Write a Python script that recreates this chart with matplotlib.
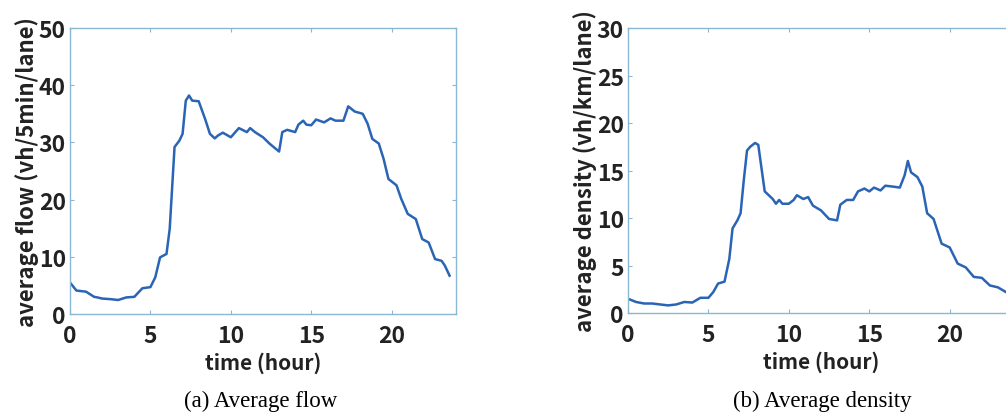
import numpy as np
import matplotlib as mpl
mpl.use('Agg')
import matplotlib.pyplot as plt

# hours / values
flow_hours = [0.0, 0.4, 1.0, 1.5, 1.7, 2.0, 2.5, 3.0, 3.5, 4.0, 4.5, 5.0, 5.3, 5.6,
              6.0, 6.2, 6.5, 6.8, 7.0, 7.2, 7.4, 7.6, 8.0, 8.4, 8.7, 9.0, 9.2, 9.5,
              10.0, 10.5, 11.0, 11.2, 11.5, 12.0, 12.4, 13.0, 13.2, 13.5, 14.0,
              14.2, 14.5, 14.7, 15.0, 15.3, 15.8, 16.2, 16.5, 17.0, 17.3, 17.7,
              18.2, 18.5, 18.8, 19.2, 19.5, 19.8, 20.3, 20.6, 21.0, 21.5, 21.9,
              22.3, 22.7, 23.1, 23.3, 23.6]
flow_values = [5.5, 4.1, 3.9, 3.0, 2.9, 2.7, 2.6, 2.45, 2.9, 3.0, 4.5, 4.7, 6.4, 9.9,
               10.5, 14.9, 29.2, 30.3, 31.5, 37.3, 38.2, 37.3, 37.2, 34.1, 31.5,
               30.7, 31.2, 31.7, 30.9, 32.5, 31.8, 32.5, 31.8, 30.9, 29.8, 28.4,
               31.8, 32.2, 31.8, 33.1, 33.8, 33.1, 33.0, 34.0, 33.5, 34.2, 33.8,
               33.8, 36.3, 35.4, 35.0, 33.3, 30.6, 29.8, 27.1, 23.6, 22.5, 20.1,
               17.5, 16.6, 13.1, 12.5, 9.6, 9.3, 8.5, 6.7]

density_hours = [0.0, 0.5, 1.0, 1.5, 2.0, 2.5, 3.0, 3.5, 4.0, 4.5, 5.0, 5.3, 5.6,
                 6.0, 6.3, 6.5, 6.8, 7.0, 7.2, 7.4, 7.6, 7.9, 8.1, 8.5, 9.0, 9.2,
                 9.4, 9.6, 10.0, 10.3, 10.5, 10.9, 11.2, 11.5, 12.0, 12.5, 13.0,
                 13.2, 13.6, 14.0, 14.3, 14.7, 15.0, 15.3, 15.7, 16.0, 16.5, 16.9,
                 17.2, 17.4, 17.6, 18.0, 18.3, 18.6, 19.0, 19.5, 20.0, 20.5, 21.0,
                 21.5, 22.0, 22.5, 23.0, 23.4, 23.6]
density_values = [1.5, 1.16, 1.0, 1.0, 0.9, 0.8, 0.9, 1.16, 1.1, 1.6, 1.6, 2.2, 3.1,
                  3.3, 5.7, 8.9, 9.75, 10.5, 14.0, 17.1, 17.5, 17.9, 17.7, 12.8,
                  12.0, 11.5, 11.9, 11.5, 11.5, 11.9, 12.4, 12.0, 12.2, 11.3, 10.8,
                  9.9, 9.75, 11.4, 11.9, 11.9, 12.8, 13.1, 12.8, 13.2, 12.9, 13.4,
                  13.3, 13.2, 14.5, 16.0, 14.8, 14.3, 13.3, 10.5, 9.9, 7.3, 6.9,
                  5.2, 4.8, 3.8, 3.7, 2.9, 2.7, 2.3, 2.1]

x_ticks = [0, 5, 10, 15, 20]
flow_yticks = [0, 10, 20, 30, 40, 50]
density_yticks = [0, 5, 10, 15, 20, 25, 30]

font = ['Noto Sans CJK JP', 'DejaVu Sans']
spine_color = '#8ab8d4'
line_color = '#2a64b4'
text_color = '#222222'


def style_axis(ax, yticks, ylabel):
    ax.set_xlim(0, 24)
    ax.set_ylim(yticks[0], yticks[-1])
    ax.set_xticks(x_ticks)
    ax.set_yticks(yticks)
    ax.tick_params(direction='in', length=3, width=0.8, color=spine_color,
                   top=True, right=True, labelsize=16.5, labelcolor=text_color)
    ax.tick_params(axis='x', pad=7)
    ax.tick_params(axis='y', pad=3)
    for lab in ax.get_xticklabels() + ax.get_yticklabels():
        lab.set_fontfamily(font)
        lab.set_fontweight('bold')
    for sp in ax.spines.values():
        sp.set_color(spine_color)
        sp.set_linewidth(1.0)
    ax.set_xlabel('time (hour)', fontsize=15, fontweight='bold',
                  family=font, color=text_color, labelpad=3)
    ax.set_ylabel(ylabel, fontsize=16, fontweight='bold',
                  family=font, color=text_color, labelpad=0)


fig = plt.figure(figsize=(10.06, 4.14), dpi=100)

# left panel (pixels: x 70-455, y 29-315)
ax_flow = fig.add_axes([70 / 1006, 1 - 315 / 414, 386 / 1006, 286 / 414])
ax_flow.plot(flow_hours, flow_values, color=line_color, lw=1.8)
style_axis(ax_flow, flow_yticks, 'average flow (vh/5min/lane)')

# right panel runs past the image edge in the reference
ax_dens = fig.add_axes([628 / 1006, 1 - 314 / 414, 386 / 1006, 285 / 414])
ax_dens.plot(density_hours, density_values, color=line_color, lw=1.8)
style_axis(ax_dens, density_yticks, 'average density (vh/km/lane)')

fig.text(261 / 1006, 1 - 401 / 414, '(a) Average flow', ha='center', va='center',
         family='Liberation Serif', fontsize=16.5)
fig.text(822 / 1006, 1 - 401 / 414, '(b) Average density', ha='center', va='center',
         family='Liberation Serif', fontsize=16.5)

fig.savefig('out.png', dpi=100)
